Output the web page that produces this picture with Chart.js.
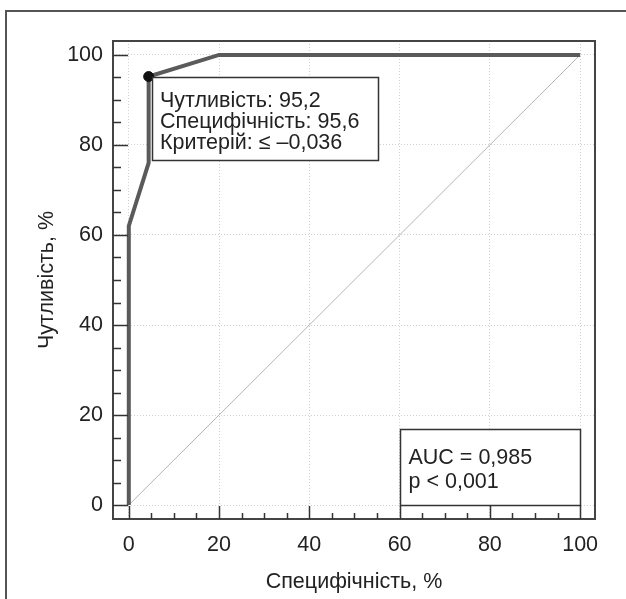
<!DOCTYPE html>
<html>
<head>
<meta charset="utf-8">
<script src="https://cdn.jsdelivr.net/npm/chart.js@4.4.1/dist/chart.umd.min.js"></script>
<style>
  html, body { margin: 0; padding: 0; background: #fff; }
  canvas { display: block; }
</style>
</head>
<body>
<canvas id="roc" width="626" height="599"></canvas>
<script>
// ROC curve (x = 100 - specificity, y = sensitivity)
const rocX = [0, 0, 4.4, 4.4, 20, 100];
const rocY = [0, 62, 76, 95.2, 100, 100];
const refX = [0, 100];
const refY = [0, 100];
const cutX = [4.4];
const cutY = [95.2];

const majorTicks = [0, 20, 40, 60, 80, 100];
const minorTicks = [5, 10, 15, 25, 30, 35, 45, 50, 55, 65, 70, 75, 85, 90, 95];

const cutLines = ['Чутливість: 95,2', 'Специфічність: 95,6', 'Критерій: ≤ –0,036'];
const aucLines = ['AUC = 0,985', 'p < 0,001'];
const aucBox = { x0: 60, x1: 100, y0: 0, y1: 17 };

const FONT = '"Liberation Sans", Arial, Helvetica, sans-serif';
const FS = 21.5;
const TXT = '#222';

const toPts = (xs, ys) => xs.map((x, i) => ({ x: x, y: ys[i] }));

const decor = {
  id: 'decor',
  beforeDraw(chart) {
    const ctx = chart.ctx;
    ctx.save();
    // outer frame (left + top only)
    ctx.strokeStyle = '#555';
    ctx.lineWidth = 2;
    ctx.beginPath();
    ctx.moveTo(6, 599);
    ctx.lineTo(6, 11);
    ctx.lineTo(626, 11);
    ctx.stroke();
    ctx.restore();
  },
  afterDatasetsDraw(chart) {
    const ctx = chart.ctx;
    const a = chart.chartArea;
    const xs = chart.scales.x, ys = chart.scales.y;
    ctx.save();

    // plot box
    ctx.strokeStyle = '#444';
    ctx.lineWidth = 2;
    ctx.strokeRect(a.left, a.top, a.right - a.left, a.bottom - a.top);

    // inner ticks
    ctx.lineWidth = 1.5;
    ctx.strokeStyle = '#333';
    ctx.beginPath();
    majorTicks.forEach(v => {
      const py = Math.round(ys.getPixelForValue(v)) + 0.5;
      ctx.moveTo(a.left, py); ctx.lineTo(a.left + 15, py);
      const px = Math.round(xs.getPixelForValue(v)) + 0.5;
      ctx.moveTo(px, a.bottom); ctx.lineTo(px, a.bottom - 13);
    });
    minorTicks.forEach(v => {
      const py = Math.round(ys.getPixelForValue(v)) + 0.5;
      ctx.moveTo(a.left, py); ctx.lineTo(a.left + 8, py);
      const px = Math.round(xs.getPixelForValue(v)) + 0.5;
      ctx.moveTo(px, a.bottom); ctx.lineTo(px, a.bottom - 6);
    });
    ctx.stroke();

    ctx.font = FS + 'px ' + FONT;
    ctx.fillStyle = TXT;
    ctx.textBaseline = 'alphabetic';
    ctx.textAlign = 'left';

    // cut-off box next to the marked point
    const cx = xs.getPixelForValue(cutX[0]);
    const cy = ys.getPixelForValue(cutY[0]);
    const b1 = { l: Math.round(cx + 3), t: Math.round(cy), w: 226, h: 83 };
    ctx.fillStyle = '#fff';
    ctx.fillRect(b1.l, b1.t, b1.w, b1.h);
    ctx.strokeStyle = '#333';
    ctx.lineWidth = 1.5;
    ctx.strokeRect(b1.l + 0.5, b1.t + 0.5, b1.w, b1.h);
    ctx.fillStyle = TXT;
    cutLines.forEach((s, i) => ctx.fillText(s, b1.l + 8, b1.t + 30 + i * 20.8));

    // AUC box
    const l2 = Math.round(xs.getPixelForValue(aucBox.x0)) + 0.5;
    const r2 = Math.round(xs.getPixelForValue(aucBox.x1)) + 0.5;
    const t2 = Math.round(ys.getPixelForValue(aucBox.y1)) + 0.5;
    const b2 = Math.round(ys.getPixelForValue(aucBox.y0)) + 0.5;
    ctx.fillStyle = '#fff';
    ctx.fillRect(l2, t2, r2 - l2, b2 - t2);
    ctx.strokeRect(l2, t2, r2 - l2, b2 - t2);
    ctx.fillStyle = TXT;
    aucLines.forEach((s, i) => ctx.fillText(s, l2 + 8, t2 + 34 + i * 24));

    ctx.restore();
  }
};

new Chart(document.getElementById('roc'), {
  type: 'line',
  data: {
    datasets: [
      {
        data: toPts(refX, refY),
        borderColor: '#b5b5b5',
        borderWidth: 1,
        pointRadius: 0,
        order: 3
      },
      {
        data: toPts(rocX, rocY),
        borderColor: '#5a5a5a',
        borderWidth: 4,
        borderJoinStyle: 'miter',
        pointRadius: 0,
        order: 2
      },
      {
        data: toPts(cutX, cutY),
        showLine: false,
        pointRadius: 5,
        pointBackgroundColor: '#111',
        pointBorderColor: '#111',
        order: 1
      }
    ]
  },
  options: {
    responsive: false,
    animation: false,
    devicePixelRatio: 1,
    layout: { padding: { top: 41, right: 31, left: 0, bottom: 0 } },
    plugins: { legend: { display: false }, tooltip: { enabled: false } },
    scales: {
      x: {
        type: 'linear',
        min: -3.5,
        max: 103.3,
        afterBuildTicks: s => { s.ticks = majorTicks.map(v => ({ value: v })); },
        afterFit: s => { s.height = 80; },
        grid: { color: '#cfcfcf', lineWidth: 1, drawTicks: false },
        border: { display: false, dash: [1, 2] },
        ticks: { padding: 13, color: TXT, font: { family: FONT, size: FS }, maxRotation: 0 },
        title: { display: true, text: 'Специфічність, %', color: TXT,
                 font: { family: FONT, size: FS }, padding: { top: 0, bottom: 4 } }
      },
      y: {
        type: 'linear',
        min: -3.1,
        max: 103.1,
        afterBuildTicks: s => { s.ticks = majorTicks.map(v => ({ value: v })); },
        afterFit: s => { s.width = 113; },
        grid: { color: '#cfcfcf', lineWidth: 1, drawTicks: false },
        border: { display: false, dash: [1, 2] },
        ticks: { padding: 10, color: TXT, font: { family: FONT, size: FS } },
        title: { display: true, text: 'Чутливість, %', color: TXT,
                 font: { family: FONT, size: FS }, padding: { top: 34, bottom: 0 } }
      }
    }
  },
  plugins: [decor]
});
</script>
</body>
</html>
